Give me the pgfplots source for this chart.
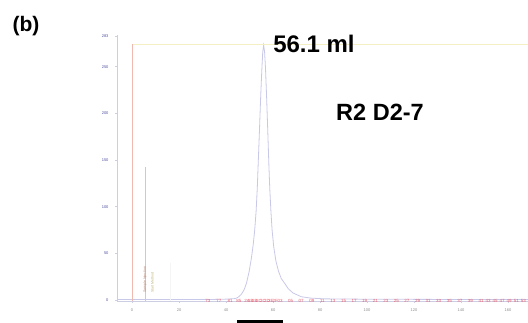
\documentclass[border=0pt]{standalone}
\usepackage{pgfplots}
\pgfplotsset{compat=1.18}
\usepackage{fontspec}
\setmainfont{Liberation Sans}
\definecolor{peakc}{RGB}{200,200,232}
\definecolor{axisc}{RGB}{205,205,228}
\definecolor{injc}{RGB}{240,185,175}
\definecolor{yelc}{RGB}{245,240,195}
\definecolor{spkc}{RGB}{240,185,195}
\definecolor{fracc}{RGB}{235,95,110}
\definecolor{ytc}{RGB}{80,80,160}
\definecolor{xtc}{RGB}{140,140,140}
\definecolor{txtc}{RGB}{180,130,110}
\definecolor{txtd}{RGB}{185,175,110}
\begin{document}
\begin{tikzpicture}[x=1pt,y=1pt]
\path[use as bounding box] (0,0) rectangle (528,322);
\begin{axis}[
  at={(117pt,21pt)}, anchor=south west,
  scale only axis, width=411pt, height=266pt,
  xmin=-6.4, xmax=168.5, ymin=-1.1, ymax=283.9,
  axis lines=left, axis line style={draw=axisc,-, line width=0.5pt},
  clip=false,
  /pgf/number format/assume math mode=true,
  xtick={0,20,...,160}, ytick={0,50,...,250},
  extra y ticks={283}, extra y tick labels={283},
  tick style={draw=axisc, line width=0.3pt},
  major tick length=2pt,
  tick align=outside,
  yticklabel style={text=ytc, font=\fontsize{4}{4}\selectfont, xshift=-3pt},
  xticklabel style={text=xtc, font=\fontsize{4}{4}\selectfont, yshift=-2.5pt},
]
% UV trace
\addplot[peakc, line width=0.8pt] coordinates {
 (-6,0.5) (0,0.5) (20,0.5) (35,0.6) (40,0.9) (44,1.5) (45.2,3) (46.5,6) (47.7,11)
 (48.7,18) (49.8,30) (50.8,45) (51.6,60) (52.2,75) (52.8,95) (53.3,120)
 (53.7,147) (54.2,180) (54.7,215) (55.2,245) (55.6,265) (56.0,273)
 (56.4,266) (56.8,248) (57.3,215) (57.8,178) (58.2,147) (58.6,120)
 (59.1,95) (59.6,75) (60.3,57) (61.2,42) (62.3,31) (63.5,23) (64.9,18)
 (66.5,12) (68.5,7.5) (72,3.5) (76,2) (82,1.2) (100,0.8) (130,0.6) (168.5,0.5)
};
% injection marker and level
\addplot[yelc, line width=0.6pt] coordinates {(0,274) (168.5,274)};
\addplot[injc, line width=0.6pt] coordinates {(0,-1) (0,274)};
\addplot[spkc, line width=0.5pt] coordinates {(5.5,-1) (5.5,142.5)};
\addplot[gray!8, line width=0.4pt] coordinates {(16.2,-1) (16.2,40)};
% event texts
\addplot[only marks, mark=none, nodes near coords, point meta=explicit symbolic,
  every node near coord/.append style={rotate=90, anchor=west, inner sep=0pt,
  font=\fontsize{3.5}{3.5}\selectfont, text=txtc}]
  coordinates {(5.5,7.5) [Sample Injection]};
\addplot[only marks, mark=none, nodes near coords, point meta=explicit symbolic,
  every node near coord/.append style={rotate=90, anchor=west, inner sep=0pt,
  font=\fontsize{3.5}{3.5}\selectfont, text=txtd}]
  coordinates {(8.6,7.5) [Start Method]};
% fractions
\addplot[only marks, mark=none, nodes near coords, point meta=explicit symbolic,
  every node near coord/.append style={anchor=center, inner sep=0pt,
  font=\fontsize{4.5}{4.5}\selectfont, text=fracc}]
  coordinates {
  (32.3,-1)[73] (37,-1)[77] (41.7,-1)[81] (45.5,-1)[85] (49,-1)[2A] (50.6,-1)[2B]
  (52.3,-1)[2B] (54,-1)[2C] (55.7,-1)[2C] (57.4,-1)[2D] (59.1,-1)[2E] (60.9,-1)[2F]
  (63,-1)[03] (67.5,-1)[05] (72,-1)[07] (76.5,-1)[09] (81,-1)[11] (85.5,-1)[13]
  (90,-1)[15] (94.5,-1)[17] (99,-1)[19] (103.5,-1)[21] (108,-1)[23] (112.5,-1)[25]
  (117,-1)[27] (121.5,-1)[29] (126,-1)[31] (130.5,-1)[33] (135,-1)[35] (139.5,-1)[37]
  (144,-1)[39] (148.5,-1)[41] (151.5,-1)[43] (154.5,-1)[45] (157.5,-1)[47]
  (160.5,-1)[49] (163.5,-1)[51] (166.5,-1)[53]
  };
% collected fraction bar
\addplot[fill=black, draw=none] coordinates {(44.7,-21.4) (64.3,-21.4) (64.3,-32) (44.7,-32)} --cycle;
\end{axis}
\node[font=\fontsize{21}{21}\selectfont\bfseries] at (26,296) {(b)};
\node[font=\fontsize{24}{24}\selectfont\bfseries] at (314,278.5) {56.1 ml};
\node[font=\fontsize{23.5}{23.5}\selectfont\bfseries] at (380,209.5) {R2 D2-7};
\end{tikzpicture}
\end{document}
